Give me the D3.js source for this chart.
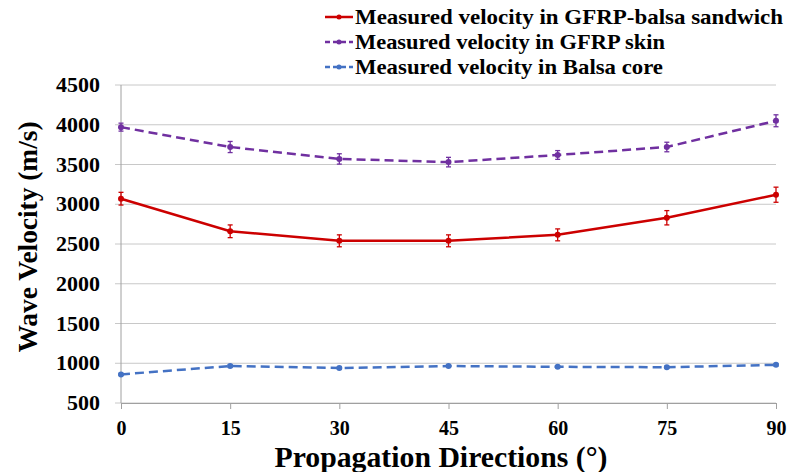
<!DOCTYPE html>
<html>
<head>
<meta charset="utf-8">
<script src="https://cdn.jsdelivr.net/npm/d3@7"></script>
<style>
  html, body { margin: 0; padding: 0; background: #fff; }
  svg { display: block; }
  text { font-family: "Liberation Serif", "Times New Roman", serif; font-weight: bold; fill: #000; }
</style>
</head>
<body>
<svg id="chart" width="790" height="472"></svg>
<script>
// Propagation direction (degrees) and measured wave velocities (m/s)
const angles = [0, 15, 30, 45, 60, 75, 90];
const sandwichVel = [3070, 2660, 2540, 2540, 2615, 2830, 3120];
const sandwichErr = [80, 80, 75, 75, 75, 90, 95];
const skinVel = [3970, 3720, 3570, 3530, 3620, 3720, 4050];
const skinErr = [50, 70, 65, 60, 55, 60, 75];
const coreVel = [860, 965, 940, 965, 955, 950, 980];
const coreErr = [12, 15, 12, 15, 12, 12, 15];
const yTicks = [500, 1000, 1500, 2000, 2500, 3000, 3500, 4000, 4500];
const xTicks = [0, 15, 30, 45, 60, 75, 90];

const series = [
  { name: "Measured velocity in GFRP-balsa sandwich", values: sandwichVel, err: sandwichErr, color: "#cc0000", dash: null, legendLen: 428 },
  { name: "Measured velocity in GFRP skin", values: skinVel, err: skinErr, color: "#7030a0", dash: "9,5", legendLen: 310 },
  { name: "Measured velocity in Balsa core", values: coreVel, err: coreErr, color: "#4472c4", dash: "9,5", legendLen: 308 }
];

const svg = d3.select("#chart");
const plotLeft = 121, plotRight = 776, plotTop = 85, plotBottom = 403;

const x = d3.scaleLinear().domain([0, 90]).range([plotLeft, plotRight]);
const y = d3.scaleLinear().domain([500, 4500]).range([plotBottom, plotTop]);

// Horizontal gridlines, extending a little left of the axis as tick marks
svg.append("g")
  .selectAll("line")
  .data(yTicks)
  .join("line")
  .attr("x1", plotLeft - 6).attr("x2", plotRight)
  .attr("y1", d => y(d)).attr("y2", d => y(d))
  .attr("stroke", "#c8c8c8").attr("stroke-width", 1);

// Y axis labels
svg.append("g")
  .selectAll("text")
  .data(yTicks)
  .join("text")
  .attr("x", 100)
  .attr("y", d => y(d))
  .attr("dy", "0.35em")
  .attr("text-anchor", "end")
  .attr("font-size", 20)
  .attr("textLength", d => String(d).length * 11)
  .attr("lengthAdjust", "spacingAndGlyphs")
  .text(d => d);

// Vertical axis line
svg.append("line")
  .attr("x1", plotLeft).attr("x2", plotLeft)
  .attr("y1", plotTop).attr("y2", plotBottom)
  .attr("stroke", "#a0a0a0");

// X axis
const xAxis = d3.axisBottom(x).tickValues(xTicks).tickSize(6).tickFormat(d3.format("d"));
const gx = svg.append("g").attr("transform", `translate(0,${plotBottom})`).call(xAxis);
gx.select(".domain").attr("stroke", "#a0a0a0");
gx.selectAll(".tick line").attr("stroke", "#a0a0a0");
gx.selectAll(".tick text")
  .attr("font-size", 20)
  .attr("font-family", "Liberation Serif, serif")
  .attr("font-weight", "bold")
  .attr("fill", "#000")
  .attr("y", 18);

// Series lines, error bars and markers
const line = d3.line().x((d, i) => x(angles[i])).y(d => y(d));
series.forEach(s => {
  const g = svg.append("g");
  g.append("path")
    .datum(s.values)
    .attr("d", line)
    .attr("fill", "none")
    .attr("stroke", s.color)
    .attr("stroke-width", 2.5)
    .attr("stroke-dasharray", s.dash);
  const pts = s.values.map((v, i) => ({ a: angles[i], v, e: s.err[i] }));
  const eb = g.selectAll("g.eb").data(pts).join("g").attr("class", "eb");
  eb.append("line")
    .attr("x1", d => x(d.a)).attr("x2", d => x(d.a))
    .attr("y1", d => y(d.v + d.e)).attr("y2", d => y(d.v - d.e))
    .attr("stroke", s.color).attr("stroke-width", 1.3);
  eb.append("line")
    .attr("x1", d => x(d.a) - 2.5).attr("x2", d => x(d.a) + 2.5)
    .attr("y1", d => y(d.v + d.e)).attr("y2", d => y(d.v + d.e))
    .attr("stroke", s.color).attr("stroke-width", 1.3);
  eb.append("line")
    .attr("x1", d => x(d.a) - 2.5).attr("x2", d => x(d.a) + 2.5)
    .attr("y1", d => y(d.v - d.e)).attr("y2", d => y(d.v - d.e))
    .attr("stroke", s.color).attr("stroke-width", 1.3);
  g.selectAll("circle").data(pts).join("circle")
    .attr("cx", d => x(d.a)).attr("cy", d => y(d.v))
    .attr("r", 3).attr("fill", s.color);
});

// Axis titles
svg.append("text")
  .attr("x", 441).attr("y", 467)
  .attr("text-anchor", "middle")
  .attr("font-size", 30)
  .attr("textLength", 333)
  .attr("lengthAdjust", "spacingAndGlyphs")
  .text("Propagation Directions (°)");

svg.append("text")
  .attr("transform", "translate(37,237) rotate(-90)")
  .attr("text-anchor", "middle")
  .attr("font-size", 28)
  .attr("textLength", 231)
  .attr("lengthAdjust", "spacingAndGlyphs")
  .text("Wave Velocity (m/s)");

// Legend
const legend = svg.append("g");
series.forEach((s, i) => {
  const ly = 17 + i * 25;
  legend.append("line")
    .attr("x1", 325).attr("x2", 353)
    .attr("y1", ly).attr("y2", ly)
    .attr("stroke", s.color).attr("stroke-width", 2.5)
    .attr("stroke-dasharray", s.dash ? "5,3" : null);
  legend.append("circle").attr("cx", 339).attr("cy", ly).attr("r", 2.5).attr("fill", s.color);
  legend.append("text")
    .attr("x", 355).attr("y", ly)
    .attr("dy", "0.35em")
    .attr("font-size", 21)
    .attr("textLength", s.legendLen)
    .attr("lengthAdjust", "spacingAndGlyphs")
    .text(s.name);
});
</script>
</body>
</html>
